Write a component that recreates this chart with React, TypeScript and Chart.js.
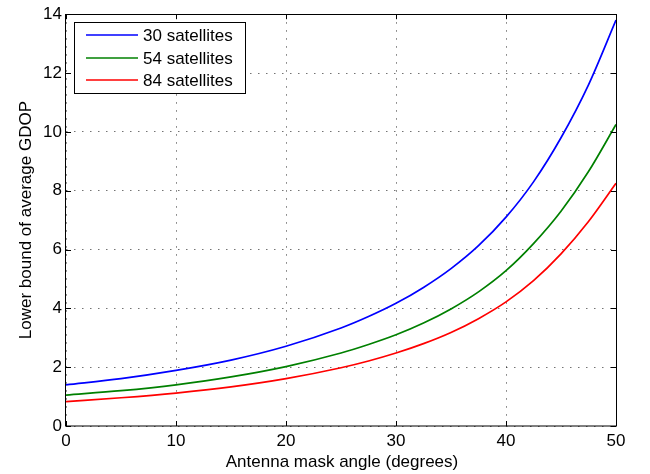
import React, { useEffect, useRef } from "react";
import { Chart, registerables } from "chart.js";

Chart.register(...registerables);

const angles = [0, 5, 10, 15, 20, 25, 27.5, 30, 32.5, 35, 37.5, 40, 42.5, 45, 47.5, 50];
const gdop30 = [1.4, 1.61, 1.89, 2.24, 2.71, 3.33, 3.72, 4.17, 4.71, 5.35, 6.13, 7.1, 8.3, 9.8, 11.6, 13.8];
const gdop54 = [1.05, 1.2, 1.4, 1.67, 2.02, 2.48, 2.77, 3.1, 3.5, 3.98, 4.56, 5.28, 6.2, 7.3, 8.65, 10.25];
const gdop84 = [0.83, 0.96, 1.12, 1.33, 1.61, 1.98, 2.21, 2.48, 2.8, 3.18, 3.65, 4.22, 4.94, 5.85, 6.95, 8.25];
const seriesLabels = ["30 satellites", "54 satellites", "84 satellites"];
const seriesColors = ["#0000ff", "#008000", "#ff0000"];
const xTitle = "Antenna mask angle (degrees)";
const yTitle = "Lower bound of average GDOP";
const xMin = 0, xMax = 50, xStep = 10;
const yMin = 0, yMax = 14, yStep = 2;

const FONT = "'Liberation Sans', Arial, Helvetica, sans-serif";
const FS = 17;

const framePlugin = {
  id: "frame",
  afterDatasetsDraw(chart: any) {
    const { ctx, chartArea } = chart;
    const { left, right, top, bottom } = chartArea;
    const xs = chart.scales.x;
    const ys = chart.scales.y;
    ctx.save();
    ctx.strokeStyle = "#000";
    ctx.lineWidth = 1;
    ctx.setLineDash([]);
    ctx.strokeRect(Math.round(left) - 0.5, Math.round(top) + 0.5, Math.round(right - left) + 1, Math.round(bottom - top) - 0.5);
    const tl = 5;
    ctx.beginPath();
    xs.ticks.forEach((t: any) => {
      const px = Math.round(xs.getPixelForValue(t.value)) + 0.5;
      ctx.moveTo(px, bottom);
      ctx.lineTo(px, bottom - tl);
      ctx.moveTo(px, top);
      ctx.lineTo(px, top + tl);
    });
    ys.ticks.forEach((t: any) => {
      const py = Math.round(ys.getPixelForValue(t.value)) + 0.5;
      ctx.moveTo(left, py);
      ctx.lineTo(left + tl, py);
      ctx.moveTo(right, py);
      ctx.lineTo(right - tl, py);
    });
    ctx.stroke();

    // titles
    ctx.fillStyle = "#000";
    ctx.font = `${FS}px ${FONT}`;
    ctx.textAlign = "center";
    ctx.textBaseline = "middle";
    ctx.fillText(xTitle, (left + right) / 2 + 1, 462);
    ctx.save();
    ctx.translate(26, (top + bottom) / 2);
    ctx.rotate(-Math.PI / 2);
    ctx.fillText(yTitle, 0, 0);
    ctx.restore();

    // legend
    const bx = 74.5, by = 22.5, bw = 171, bh = 71;
    ctx.fillStyle = "#fff";
    ctx.fillRect(bx, by, bw, bh);
    ctx.strokeStyle = "#000";
    ctx.lineWidth = 1;
    ctx.strokeRect(bx, by, bw, bh);
    const rows = [35, 58, 80];
    ctx.textAlign = "left";
    ctx.textBaseline = "middle";
    seriesLabels.forEach((lab, i) => {
      ctx.strokeStyle = seriesColors[i];
      ctx.lineWidth = 1.6;
      ctx.beginPath();
      ctx.moveTo(86, rows[i]);
      ctx.lineTo(138, rows[i]);
      ctx.stroke();
      ctx.fillStyle = "#000";
      ctx.fillText(lab, 143, rows[i] + 1);
    });
    ctx.restore();
  },
};

export default function App() {
  const ref = useRef<HTMLCanvasElement | null>(null);
  useEffect(() => {
    if (!ref.current) return;
    const series = [gdop30, gdop54, gdop84];
    const chart = new Chart(ref.current, {
      type: "line",
      data: {
        datasets: series.map((vals, i) => ({
          label: seriesLabels[i],
          data: angles.map((a, j) => ({ x: a, y: vals[j] })),
          borderColor: seriesColors[i],
          backgroundColor: seriesColors[i],
          borderWidth: 1.7,
          pointRadius: 0,
          cubicInterpolationMode: "monotone" as const,
          fill: false,
        })),
      },
      options: {
        responsive: false,
        animation: false,
        layout: { padding: { top: 14, right: 34, left: 0, bottom: 0 } },
        plugins: { legend: { display: false }, tooltip: { enabled: false } },
        scales: {
          x: {
            type: "linear",
            min: xMin,
            max: xMax,
            ticks: { stepSize: xStep, color: "#000", font: { family: FONT, size: FS }, padding: 5, maxRotation: 0 },
            grid: { color: "rgba(0,0,0,0.55)", lineWidth: 1, drawTicks: false },
            border: { display: false, dash: [1.5, 6.5] },
            afterFit: (s: any) => { s.height = 48; },
          },
          y: {
            type: "linear",
            min: yMin,
            max: yMax,
            ticks: { stepSize: yStep, color: "#000", font: { family: FONT, size: FS }, padding: 4 },
            grid: { color: "rgba(0,0,0,0.55)", lineWidth: 1, drawTicks: false },
            border: { display: false, dash: [1.5, 6.5] },
            afterFit: (s: any) => { s.width = 66; },
          },
        },
      },
      plugins: [framePlugin],
    });
    return () => chart.destroy();
  }, []);
  return (
    <div style={{ position: "absolute", left: 0, top: 0, width: 650, height: 474, background: "#fff" }}>
      <canvas ref={ref} width={650} height={474} />
    </div>
  );
}
